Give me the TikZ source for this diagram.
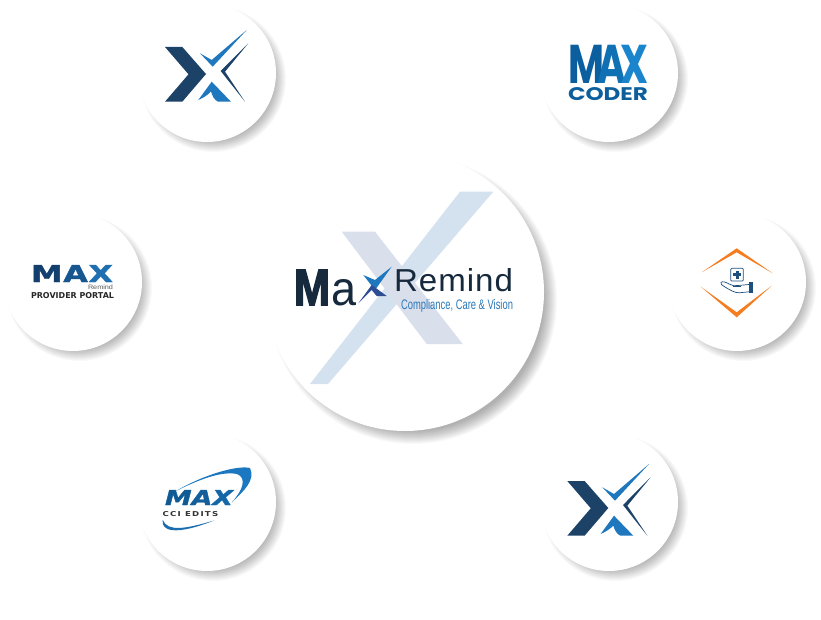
\documentclass[tikz,border=0pt]{standalone}
\usepackage{graphicx}
\usepackage{fontspec}
\setmainfont{Liberation Sans}
\newfontfamily\popfont{Poppins}
\newfontfamily\remfont[LetterSpace=3]{Liberation Sans}
\newfontfamily\heavyfont[FakeBold=3]{Liberation Sans}
\newfontfamily\wideltr{DejaVu Sans}
\newfontfamily\wideheavy[FakeBold=1.5]{DejaVu Sans}
\newfontfamily\spacedfont[LetterSpace=14]{DejaVu Sans}
\definecolor{navy}{HTML}{1C4268}
\definecolor{tick}{HTML}{1F77BE}
\definecolor{inkdark}{HTML}{16293D}
\definecolor{tagblue}{HTML}{2A78B8}
\definecolor{hubleg}{HTML}{2D4D95}
\definecolor{orangeedge}{HTML}{F57C1F}
\definecolor{handblue}{HTML}{1D4F7F}
\definecolor{swoosh}{HTML}{1B78C0}
\definecolor{wmA}{HTML}{D4E2EF}
\definecolor{wmD}{HTML}{DADFEC}
\definecolor{codeM}{HTML}{0B5F9E}
\definecolor{codeA}{HTML}{0F70B4}
\definecolor{codeX}{HTML}{1A85CC}
\definecolor{codeT}{HTML}{0D5F9C}
\definecolor{provM}{HTML}{123F6E}
\definecolor{provA}{HTML}{17578F}
\definecolor{provX}{HTML}{1F6FB0}
\definecolor{cciM}{HTML}{0F5A94}
\definecolor{cciA}{HTML}{125F9C}
\definecolor{cciX}{HTML}{1468A8}
\newcommand\fitbox[3]{\resizebox{#1pt}{#2pt}{#3}}
% soft shadow: centre x, centre y, radius, offset, growth
\newcommand\softshadow[5]{%
  \foreach \i in {0,...,13}{
    \fill[black,opacity=.022] (#1+#4,#2+#4) circle ({#3+#5-\i});
  }}
\newcommand\xlogo{%
  \fill[navy] (165,47) -- (182.3,47) -- (206,74) -- (182.3,101.7) -- (165,101.7) -- (188.5,74.3) -- cycle;
  \fill[tick] (200,53.3) -- (211.7,60) -- (246.7,30) -- (212.7,66.7) -- cycle;
  \fill[navy] (248.3,43.3) -- (220.7,71) -- (245,101.7) -- (225,71.7) -- cycle;
  \fill[tick] (198.3,100) -- (211.7,81.7) -- (231,101.7) -- (218,101.7) .. controls (214,100) and (212,95) .. (211,91.5) .. controls (208,95) and (203,98) .. (198.3,100) -- cycle;
}
\tikzset{
  disc/.style={circle,fill=white,inner sep=0pt,minimum size=#1},
  lbl/.style={inner sep=0pt,outer sep=0pt,anchor=north west},
}
\begin{document}
\begin{tikzpicture}[x=1pt,y=-1pt]
\useasboundingbox (0,0) rectangle (821,620);
\fill[white] (0,0) rectangle (821,620);

% shadows
\softshadow{207}{73}{69}{6}{4}
\softshadow{609}{73}{69}{6}{4}
\softshadow{73}{282}{69}{6}{4}
\softshadow{737}{282}{69}{6}{4}
\softshadow{207}{502}{69}{6}{4}
\softshadow{609}{502}{69}{6}{4}
\softshadow{405}{292}{139}{8}{5}

% discs
\node[disc=138pt] (tl) at (207,73) {};
\node[disc=138pt] (tr) at (609,73) {};
\node[disc=138pt] (lf) at (73,282) {};
\node[disc=138pt] (rt) at (737,282) {};
\node[disc=138pt] (bl) at (207,502) {};
\node[disc=138pt] (br) at (609,502) {};
\node[disc=278pt] (hub) at (405,292) {};

% top-left and bottom-right X marks
\xlogo
\begin{scope}[shift={(402.3,434)}]
\xlogo
\end{scope}

% hub watermark
\fill[wmA] (460,191.7) -- (493.3,191.7) -- (328,384) -- (310,384) -- cycle;
\fill[wmD] (341.7,231.7) -- (375,231.7) -- (462.7,344) -- (426.7,344) -- cycle;

% hub wordmark
\node[lbl] (hubM) at (294,270) {\color{inkdark}\fitbox{36}{35}{\heavyfont\bfseries M}};
\node[lbl] (hubA) at (331.5,279.5) {\color{inkdark}\fitbox{25}{26}{a}};
\fill[tick] (363.3,275) -- (375,280) -- (391.7,266.7) -- (375,290) -- cycle;
\fill[hubleg] (358.3,303.3) -- (371.7,285) -- (386.7,296) -- (376.7,296) -- (371.7,290) -- cycle;
\node[lbl] (hubR) at (394,268) {\color{inkdark}\fitbox{119}{23}{\remfont Remind}};
\node[lbl] (hubT) at (401,299) {\color{tagblue}\fitbox{112}{10}{Compliance, Care \& Vision}};

% MAX CODER
\node[lbl] (cM) at (568,45) {\fitbox{80.3}{38.3}{\popfont\bfseries\color{codeM}M\kern-.16em\color{codeA}A\kern-.16em\color{codeX}X}};
\node[lbl] (cC) at (568,88) {\color{codeT}\fitbox{80}{13}{\popfont\bfseries CODER}};

% Provider portal
\node[lbl] (pM) at (31,265) {\fitbox{82}{17}{\wideheavy\bfseries\color{provM}M\kern.02em\color{provA}A\kern.02em\color{provX}X}};
\node[lbl] (pR) at (88,285) {\color{black!65}\fitbox{25}{4.6}{Remind}};
\node[lbl] (pP) at (31,292.7) {\color{black!85}\fitbox{83}{6}{\wideltr\bfseries PROVIDER PORTAL}};

% diamond
\fill[orangeedge] (701.7,272.3) -- (736.7,248.3) -- (772.7,273.3) -- (736.7,252.3) -- cycle;
\fill[orangeedge] (700.7,286.7) -- (736.7,317.3) -- (771.7,285.7) -- (736.7,312.3) -- cycle;
\draw[handblue,line width=.7pt,rounded corners=1pt] (730.7,268.3) rectangle (743.3,281);
\fill[handblue] (735.5,270.7) rectangle (738.7,278.7);
\fill[handblue] (733.1,273.1) rectangle (741.1,276.3);
\fill[handblue] (749,282.3) rectangle (753.3,293.3);
\draw[handblue,line width=.7pt,line join=round] (749,284.5) -- (738,285.5) .. controls (735,286) and (732,286) .. (729,284) .. controls (726,282) and (722,281) .. (721,282.5) .. controls (720,284) and (722,285) .. (725,287) .. controls (730,290) and (735,293) .. (739,292.8) -- (749,291.8);
\draw[handblue,line width=.7pt] (733,286.5) -- (741,286.5);

% CCI edits
\fill[swoosh] (176,491) .. controls (205,474) and (238,465) .. (250,468) .. controls (256,480) and (243,492) .. (232,502) .. controls (243,490) and (247,478) .. (237,474) .. controls (222,471) and (200,479) .. (176,491) -- cycle;
\fill[swoosh!80!navy] (162.7,520) .. controls (161,531) and (175,536) .. (214,520.5) .. controls (185,529) and (168,532) .. (162.7,520) -- cycle;
\node[lbl] (iM) at (165,490) {\fitbox{68}{15}{\wideheavy\bfseries\itshape\color{cciM}M\color{cciA}A\color{cciX}X}};
\node[lbl] (iC) at (162.7,511.7) {\color{black!80}\fitbox{55.5}{5}{\spacedfont\bfseries CCI EDITS}};
\end{tikzpicture}
\end{document}
